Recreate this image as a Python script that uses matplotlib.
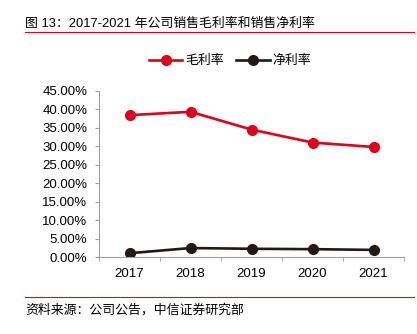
import matplotlib
matplotlib.use("Agg")
import matplotlib.pyplot as plt
from matplotlib.lines import Line2D
from matplotlib.ticker import FuncFormatter, FixedLocator

plt.rcParams["font.family"] = ["Liberation Sans", "Noto Sans CJK SC"]

years = ["2017", "2018", "2019", "2020", "2021"]
gross_margin = [0.384, 0.393, 0.345, 0.310, 0.298]
net_margin = [0.011, 0.025, 0.023, 0.022, 0.020]

RED = "#E0001B"
BLACK = "#231815"
GRAY = "#A0A0A0"

W, H = 417, 334
fig = plt.figure(figsize=(W / 100, H / 100), dpi=100)
ax = fig.add_axes([99 / W, (H - 257.3) / H, (404 - 99) / W, (257.3 - 90.7) / H])

x = list(range(len(years)))
ax.plot(x, gross_margin, color=RED, lw=1.9, marker="o", ms=7, label="毛利率")
ax.plot(x, net_margin, color=BLACK, lw=1.9, marker="o", ms=7, label="净利率")

ax.set_xlim(-0.5, len(years) - 0.5)
ax.set_ylim(0, 0.45)
ax.set_yticks([i * 0.05 for i in range(10)])
ax.yaxis.set_major_formatter(FuncFormatter(lambda v, _: f"{v * 100:.2f}%"))
ax.set_xticks(x)
ax.set_xticklabels(years)
ax.xaxis.set_minor_locator(FixedLocator([i - 0.5 for i in range(len(years) + 1)]))

for side in ["top", "right"]:
    ax.spines[side].set_visible(False)
for side in ["left", "bottom"]:
    ax.spines[side].set_color(GRAY)
    ax.spines[side].set_linewidth(0.8)
ax.tick_params(axis="y", length=3, color=GRAY, labelsize=9.5, pad=5.5)
ax.tick_params(axis="x", which="major", length=0, labelsize=9.5, pad=8)
ax.tick_params(axis="x", which="minor", length=3, color=GRAY)
ax.patch.set_alpha(0)

fig.legend(loc="center", bbox_to_anchor=(230 / W, 1 - 61 / H), ncol=2,
           frameon=False, fontsize=9.3, handlelength=2.6, columnspacing=1.0,
           handletextpad=0.2)

fig.text(25 / W, 1 - 24 / H, "图 13：2017-2021 年公司销售毛利率和销售净利率",
         fontsize=9.3, va="center", ha="left")
fig.add_artist(Line2D([25 / W, 414 / W], [1 - 32 / H, 1 - 32 / H], color=RED, lw=0.8))
fig.add_artist(Line2D([25 / W, 414 / W], [1 - 297 / H, 1 - 297 / H], color=RED, lw=0.8))
fig.text(25 / W, 1 - 310 / H, "资料来源：公司公告，中信证券研究部",
         fontsize=9.3, va="center", ha="left")

fig.savefig("out.png", dpi=100)
